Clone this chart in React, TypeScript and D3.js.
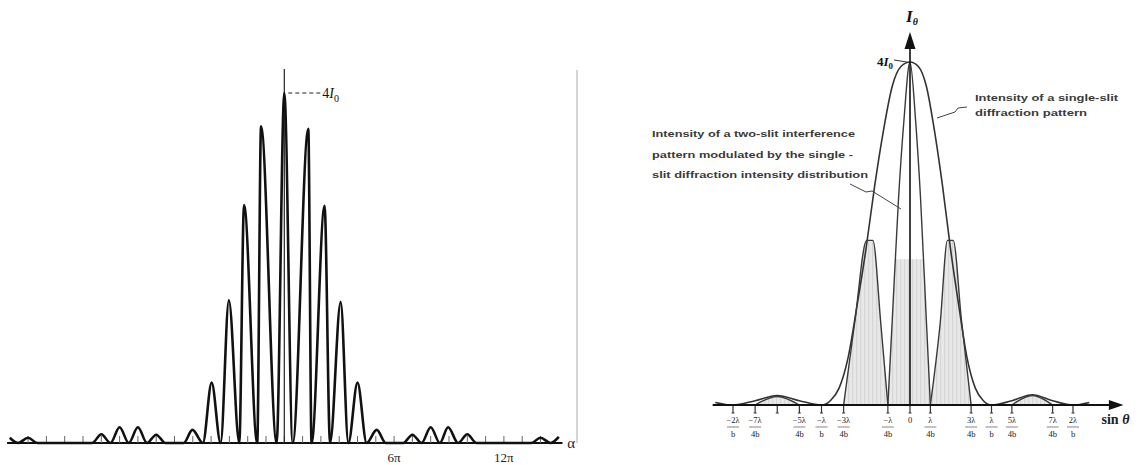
import React, { useEffect, useRef } from 'react';
import * as d3 from 'd3';

// ---- left panel: two-slit pattern vs alpha (in units of pi), intensity in I0
const leftPeakAlpha = [-15.0, -14.0, -10.0, -9.0, -8.0, -7.0, -5.02, -3.97, -3.03, -2.2, -1.27, 0, 1.31, 2.2, 3.08, 4.0, 5.05, 7.0, 8.0, 8.95, 10.0, 14.0, 15.0];
const leftPeakI = [0.06, 0.06, 0.1, 0.18, 0.18, 0.095, 0.15, 0.69, 1.63, 2.72, 3.62, 4.0, 3.59, 2.71, 1.61, 0.69, 0.15, 0.095, 0.18, 0.18, 0.1, 0.06, 0.07];
const leftZeroAlpha = [-14.55, -13.5, -10.5, -9.5, -8.5, -7.5, -6.5, -5.5, -4.45, -3.48, -2.46, -1.48, -0.42, 0.46, 1.49, 2.5, 3.5, 4.5, 5.55, 6.5, 7.5, 8.5, 9.5, 10.5, 13.5, 14.55];
const leftTicks = [-14, -13, -12, -11, -10, -9, -8, -7, -6, -5, -4, -3, -2, -1, 0, 1, 2, 3, 4, 5, 6, 7, 8, 9, 10, 11, 12, 13, 14];
const leftLabelAlpha = [6, 12];
const leftLabelText = ['6π', '12π'];

// ---- right panel: x in units of lambda/b, intensity in I0
const envX = [-2.2, -2.0, -1.75, -1.5, -1.25, -1.0, -0.9, -0.8, -0.7, -0.6, -0.5, -0.4, -0.3, -0.2, -0.1, 0, 0.1, 0.2, 0.3, 0.4, 0.5, 0.6, 0.7, 0.8, 0.9, 1.0, 1.25, 1.5, 1.75, 2.0, 2.2];
const envI = [0.03, 0.0, 0.05, 0.11, 0.05, 0.0, 0.05, 0.2, 0.55, 1.15, 1.8, 2.55, 3.2, 3.72, 3.95, 4.0, 3.95, 3.72, 3.2, 2.55, 1.8, 1.15, 0.55, 0.2, 0.05, 0.0, 0.05, 0.12, 0.05, 0.0, 0.03];

const centralX = [-0.25, -0.2, -0.13, -0.07, 0, 0.07, 0.13, 0.2, 0.25];
const centralI = [0, 1.0, 2.4, 3.3, 4.0, 3.3, 2.4, 1.0, 0];
const sideLX = [-0.75, -0.62, -0.49, -0.42, -0.33, -0.25];
const sideLI = [0, 1.0, 1.92, 1.92, 0.95, 0];
const sideRX = [0.25, 0.37, 0.46, 0.53, 0.63, 0.75];
const sideRI = [0, 0.95, 1.92, 1.92, 1.0, 0];
const outerLX = [-1.75, -1.5, -1.25];
const outerLI = [0, 0.1, 0];
const outerRX = [1.25, 1.5, 1.75];
const outerRI = [0, 0.11, 0];

const rTickX = [-2, -1.75, -1.5, -1.25, -1, -0.75, -0.25, 0, 0.25, 0.75, 1, 1.25, 1.75, 2];
const rTickNum = ['−2λ', '−7λ', '', '−5λ', '−λ', '−3λ', '−λ', '0', 'λ', '3λ', 'λ', '5λ', '7λ', '2λ'];
const rTickDen = ['b', '4b', '', '4b', 'b', '4b', '4b', '', '4b', '4b', 'b', '4b', '4b', 'b'];

const twoSlitNote = ['Intensity of a two-slit interference', 'pattern modulated by the single -', 'slit diffraction intensity distribution'];
const singleSlitNote = ['Intensity of a single-slit', 'diffraction pattern'];

const zip = (xs: number[], ys: number[]) => xs.map((x, i) => ({ x, y: ys[i] }));

export default function App() {
  const ref = useRef<SVGSVGElement>(null);

  useEffect(() => {
    const svg = d3.select(ref.current);
    svg.selectAll('*').remove();

    const serif = '"Liberation Serif", "DejaVu Serif", serif';
    const sans = '"Liberation Sans", Arial, sans-serif';

    // ================= left panel =================
    const xL = d3.scaleLinear().domain([-15, 15]).range([284.3 - 15 * 18.3, 284.3 + 15 * 18.3]);
    const yL = d3.scaleLinear().domain([0, 4]).range([443, 93]);

    const leftPts = [
      ...zip(leftPeakAlpha, leftPeakI),
      ...leftZeroAlpha.map((x) => ({ x, y: 0 })),
    ].sort((a, b) => a.x - b.x);

    // axis line
    svg.append('line')
      .attr('x1', xL(-15.15)).attr('x2', xL(15.2))
      .attr('y1', yL(0)).attr('y2', yL(0))
      .attr('stroke', '#111').attr('stroke-width', 2);

    svg.append('g').selectAll('line').data(leftTicks).join('line')
      .attr('x1', (d) => xL(d)).attr('x2', (d) => xL(d))
      .attr('y1', yL(0) - 7).attr('y2', yL(0))
      .attr('stroke', '#666').attr('stroke-width', 1);

    // center line
    svg.append('line')
      .attr('x1', xL(0)).attr('x2', xL(0))
      .attr('y1', 69).attr('y2', yL(0))
      .attr('stroke', '#222').attr('stroke-width', 1.2);

    const lineL = d3.line<{ x: number; y: number }>()
      .x((d) => xL(d.x)).y((d) => yL(d.y))
      .curve(d3.curveMonotoneX);

    svg.append('path')
      .datum(leftPts)
      .attr('fill', 'none')
      .attr('stroke', '#111')
      .attr('stroke-width', 2.6)
      .attr('stroke-linejoin', 'round')
      .attr('d', lineL);

    // 4I0 marker
    svg.append('line')
      .attr('x1', xL(0) + 4).attr('x2', xL(0) + 36)
      .attr('y1', yL(4)).attr('y2', yL(4))
      .attr('stroke', '#222').attr('stroke-width', 1)
      .attr('stroke-dasharray', '4,3');
    const l4 = svg.append('text')
      .attr('x', xL(0) + 38).attr('y', yL(4) + 5)
      .attr('font-family', serif).attr('font-size', 14).attr('fill', '#111');
    l4.append('tspan').text('4');
    l4.append('tspan').attr('font-style', 'italic').text('I');
    l4.append('tspan').attr('font-size', 10).attr('dy', 4).text('0');

    svg.append('text')
      .attr('x', xL(15.3) + 3).attr('y', yL(0) + 5)
      .attr('font-family', serif).attr('font-size', 15).attr('fill', '#222')
      .text('α');

    svg.append('g').selectAll('text').data(leftLabelAlpha).join('text')
      .attr('x', (d) => xL(d)).attr('y', 462)
      .attr('text-anchor', 'middle')
      .attr('font-family', serif).attr('font-size', 13).attr('fill', '#222')
      .text((d, i) => leftLabelText[i]);

    // divider
    svg.append('line')
      .attr('x1', 577).attr('x2', 577).attr('y1', 70).attr('y2', 443)
      .attr('stroke', '#aaa').attr('stroke-width', 1);

    // ================= right panel =================
    const xR = d3.scaleLinear().domain([-2, 0, 2]).range([733, 910, 1073]);
    const yR = d3.scaleLinear().domain([0, 4]).range([405, 62]);

    const defs = svg.append('defs');
    const pat = defs.append('pattern').attr('id', 'stripes')
      .attr('patternUnits', 'userSpaceOnUse').attr('width', 4).attr('height', 4);
    pat.append('rect').attr('width', 4).attr('height', 4).attr('fill', '#e8e8e8');
    pat.append('rect').attr('width', 1.2).attr('height', 4).attr('fill', '#d6d6d6');
    defs.append('clipPath').attr('id', 'lowfill')
      .append('rect')
      .attr('x', xR(-0.5)).attr('width', xR(0.5) - xR(-0.5))
      .attr('y', yR(1.7)).attr('height', yR(0) - yR(1.7));

    const area = d3.area<{ x: number; y: number }>()
      .x((d) => xR(d.x)).y0(yR(0)).y1((d) => yR(d.y))
      .curve(d3.curveMonotoneX);
    const lineR = d3.line<{ x: number; y: number }>()
      .x((d) => xR(d.x)).y((d) => yR(d.y))
      .curve(d3.curveMonotoneX);

    const fringes = [
      zip(outerLX, outerLI),
      zip(sideLX, sideLI),
      zip(sideRX, sideRI),
      zip(outerRX, outerRI),
    ];
    const central = zip(centralX, centralI);

    fringes.forEach((f) => {
      svg.append('path').datum(f).attr('fill', 'url(#stripes)').attr('d', area);
    });
    svg.append('path').datum(central)
      .attr('fill', 'url(#stripes)').attr('clip-path', 'url(#lowfill)').attr('d', area);

    // envelope
    svg.append('path')
      .datum(zip(envX, envI))
      .attr('fill', 'none').attr('stroke', '#333').attr('stroke-width', 1.6)
      .attr('d', lineR);

    [...fringes, central].forEach((f) => {
      svg.append('path').datum(f)
        .attr('fill', 'none').attr('stroke', '#3a3a3a').attr('stroke-width', 1.4)
        .attr('stroke-linejoin', 'round')
        .attr('d', lineR);
    });

    // axes
    svg.append('line')
      .attr('x1', xR(-2.23)).attr('x2', xR(2.46))
      .attr('y1', yR(0)).attr('y2', yR(0))
      .attr('stroke', '#111').attr('stroke-width', 2);
    svg.append('path')
      .attr('d', `M${xR(2.62)},${yR(0)} L${xR(2.44)},${yR(0) - 5} L${xR(2.44)},${yR(0) + 5} Z`)
      .attr('fill', '#111');
    svg.append('line')
      .attr('x1', xR(0)).attr('x2', xR(0))
      .attr('y1', yR(0)).attr('y2', 48)
      .attr('stroke', '#111').attr('stroke-width', 1.6);
    svg.append('path')
      .attr('d', `M${xR(0)},32 L${xR(0) - 5.5},49 L${xR(0) + 5.5},49 Z`)
      .attr('fill', '#111');

    // ticks + fraction labels
    const tg = svg.append('g').selectAll('g').data(rTickX).join('g')
      .attr('transform', (d) => `translate(${xR(d)},0)`);
    tg.append('line')
      .attr('y1', yR(0) + 1).attr('y2', yR(0) + 8)
      .attr('stroke', '#333').attr('stroke-width', 1.2);
    tg.append('line')
      .attr('x1', -1.5).attr('x2', 1.5)
      .attr('y1', yR(0) + 8).attr('y2', yR(0) + 8)
      .attr('stroke', '#333').attr('stroke-width', 1);
    tg.append('text')
      .attr('y', 423).attr('text-anchor', 'middle')
      .attr('font-family', serif).attr('font-size', 8.5).attr('fill', '#222')
      .text((d, i) => rTickNum[i]);
    tg.filter((d, i) => rTickDen[i] !== '').append('line')
      .attr('x1', -6).attr('x2', 6).attr('y1', 427).attr('y2', 427)
      .attr('stroke', '#555').attr('stroke-width', 0.7);
    tg.append('text')
      .attr('y', 437).attr('text-anchor', 'middle')
      .attr('font-family', serif).attr('font-size', 8.5).attr('fill', '#222')
      .text((d, i) => rTickDen[i]);

    // axis titles
    const it = svg.append('text')
      .attr('x', xR(0) - 4).attr('y', 22)
      .attr('font-family', serif).attr('font-size', 17).attr('font-weight', 'bold')
      .attr('font-style', 'italic').attr('fill', '#111');
    it.append('tspan').text('I');
    it.append('tspan').attr('font-size', 10).attr('dy', 3).text('θ');

    const i4 = svg.append('text')
      .attr('x', xR(0) - 17).attr('y', yR(4) + 4).attr('text-anchor', 'end')
      .attr('font-family', serif).attr('font-size', 13).attr('font-weight', 'bold').attr('fill', '#111');
    i4.append('tspan').text('4');
    i4.append('tspan').attr('font-style', 'italic').text('I');
    i4.append('tspan').attr('font-size', 9).attr('dy', 3).text('0');
    svg.append('line')
      .attr('x1', xR(0) - 16).attr('x2', xR(0) - 3)
      .attr('y1', yR(4) - 2).attr('y2', yR(4))
      .attr('stroke', '#333').attr('stroke-width', 1);

    const st = svg.append('text')
      .attr('x', xR(2.35)).attr('y', 424)
      .attr('font-family', serif).attr('font-size', 14).attr('font-weight', 'bold').attr('fill', '#222');
    st.append('tspan').text('sin ');
    st.append('tspan').attr('font-style', 'italic').text('θ');

    // annotations
    const noteWidthsL = [203, 201, 216];
    svg.append('g').selectAll('text').data(twoSlitNote).join('text')
      .attr('x', 652).attr('y', (d, i) => 137 + i * 20.5)
      .attr('font-family', sans).attr('font-size', 9.5).attr('font-weight', 'bold')
      .attr('fill', '#3a3a3a')
      .attr('textLength', (d, i) => noteWidthsL[i]).attr('lengthAdjust', 'spacingAndGlyphs')
      .text((d) => d);
    svg.append('polyline')
      .attr('points', `850,184 866,192 872,191 901,209`)
      .attr('fill', 'none').attr('stroke', '#444').attr('stroke-width', 1);

    const noteWidthsR = [143, 112];
    svg.append('g').selectAll('text').data(singleSlitNote).join('text')
      .attr('x', 975).attr('y', (d, i) => 101 + i * 15)
      .attr('font-family', sans).attr('font-size', 9.5).attr('font-weight', 'bold')
      .attr('fill', '#3a3a3a')
      .attr('textLength', (d, i) => noteWidthsR[i]).attr('lengthAdjust', 'spacingAndGlyphs')
      .text((d) => d);
    svg.append('polyline')
      .attr('points', `937,118 955,112 958,108 967,107`)
      .attr('fill', 'none').attr('stroke', '#444').attr('stroke-width', 1);
  }, []);

  return (
    <div style={{ position: 'absolute', left: 0, top: 0 }}>
      <svg ref={ref} width={1141} height={465} style={{ display: 'block', background: '#fff' }} />
    </div>
  );
}
